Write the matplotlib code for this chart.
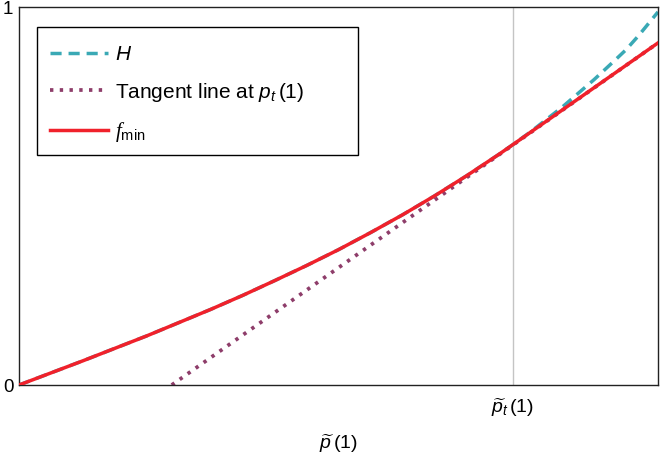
import matplotlib
matplotlib.use("Agg")
import matplotlib.pyplot as plt
from matplotlib.patches import Rectangle

plt.rcParams['font.family'] = ['Liberation Sans', 'DejaVu Sans']
plt.rcParams['mathtext.fontset'] = 'custom'
plt.rcParams['mathtext.rm'] = 'Liberation Sans'
plt.rcParams['mathtext.it'] = 'Liberation Sans:italic'
plt.rcParams['mathtext.sf'] = 'Liberation Serif:italic'

# data (x and y normalised to [0, 1])
h_x = [0.00, 0.05, 0.10, 0.15, 0.20, 0.25, 0.30, 0.35, 0.40, 0.45, 0.50, 0.55, 0.60, 0.65, 0.70,
       0.75, 0.773, 0.80, 0.85, 0.90, 0.93, 0.95, 0.97, 1.00]
h_y = [0.000, 0.032, 0.064, 0.097, 0.130, 0.165, 0.200, 0.237, 0.276, 0.316, 0.358, 0.403, 0.450,
       0.500, 0.553, 0.609, 0.636, 0.669, 0.735, 0.808, 0.855, 0.887, 0.925, 0.987]
tan_x = [0.239, 1.00]
tan_y = [0.000, 0.905]
fmin_x = [0.00, 0.05, 0.10, 0.15, 0.20, 0.25, 0.30, 0.35, 0.40, 0.45, 0.50, 0.55, 0.60, 0.65, 0.70,
          0.75, 0.773, 1.00]
fmin_y = [0.000, 0.032, 0.064, 0.097, 0.130, 0.165, 0.200, 0.237, 0.276, 0.316, 0.358, 0.403, 0.450,
          0.500, 0.553, 0.609, 0.636, 0.905]
pt = 0.773
xtick_labels = [r'$\widetilde{p}_t\,(1)$']
ytick_labels = ['0', '1']

fig = plt.figure(figsize=(6.6, 4.57), dpi=100)
ax = fig.add_axes([19/660, 72/457, 639/660, 378/457])

ax.axvline(pt, color='#c4c4c4', lw=1.0, zorder=1)
lh, = ax.plot(h_x, h_y, ls=(0, (3.2, 2.0)), color='#3aa9b5', lw=2.5, label=r'$H$', zorder=2)
lt, = ax.plot(tan_x, tan_y, ls=(0, (0.9, 1.7)), color='#8e3d6a', lw=2.7,
              label=r'Tangent line at $p_t\,(1)$', zorder=2)
lf, = ax.plot(fmin_x, fmin_y, ls='-', color='#f0212b', lw=2.5,
              label=r'$\mathsf{f}_{\mathrm{min}}$', zorder=3)

ax.set_xlim(0, 1)
ax.set_ylim(0, 1)
ax.set_xticks([pt])
ax.set_xticklabels(xtick_labels, fontsize=14)
ax.set_yticks([0, 1])
ax.set_yticklabels(ytick_labels, fontsize=13.5)
ax.tick_params(axis='x', length=0, pad=8)
ax.tick_params(axis='y', length=0, pad=4)
ax.set_xlabel(r'$\widetilde{p}\,(1)$', fontsize=14, labelpad=10)
for s in ax.spines.values():
    s.set_color('#222222')
    s.set_linewidth(1.0)

# legend frame box
bx0, bx1 = (37 - 19) / 639, (358 - 19) / 639
by1, by0 = (385 - 27) / 378, (385 - 155) / 378
ax.add_patch(Rectangle((bx0, by0), bx1 - bx0, by1 - by0, transform=ax.transAxes,
                       fill=True, facecolor='white', edgecolor='black', lw=1.0, zorder=5))

leg = ax.legend(handles=[lh, lt, lf], loc='upper left',
                bbox_to_anchor=(bx0, (385 - 32) / 378),
                fontsize=15, handlelength=2.8, handletextpad=0.33, borderpad=0.62,
                labelspacing=0.8, frameon=False, borderaxespad=0)
leg.set_zorder(6)

fig.savefig('out.png', dpi=100)
